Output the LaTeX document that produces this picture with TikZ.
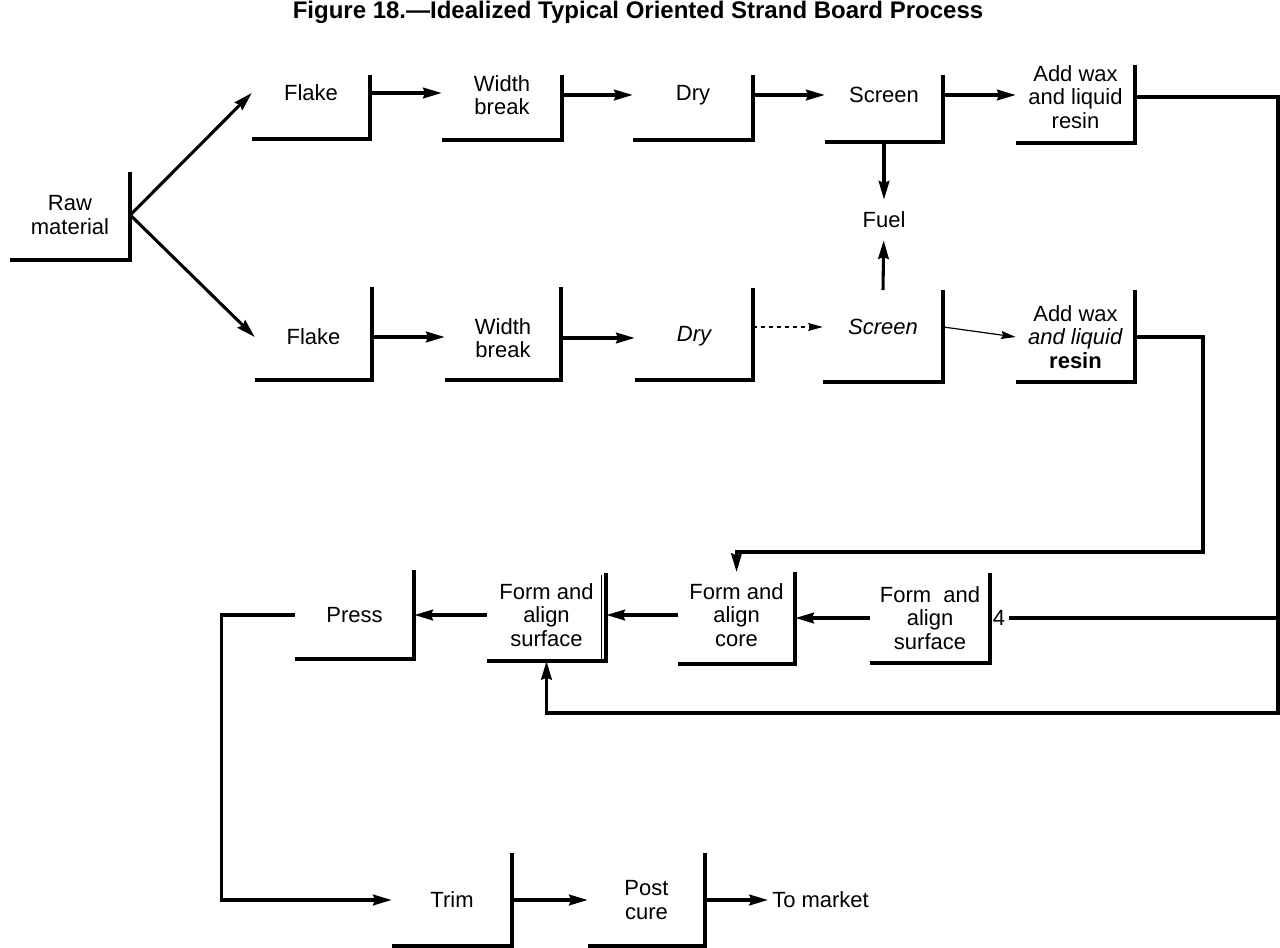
\documentclass[tikz,border=0pt]{standalone}
\usepackage{fontspec}
\setmainfont{Liberation Sans}
\usetikzlibrary{arrows.meta}

\tikzset{
  stage/.style={inner sep=0pt, minimum width={#1*0.75pt}, align=center,
    font=\fontsize{16.5}{17.6}\selectfont},
  note/.style={inner sep=3pt, font=\fontsize{16.5}{17.6}\selectfont},
  rim/.style={line width=2.8pt},
  wire/.style={line width=2.3pt},
  flow/.style={wire, -{Stealth[length=14pt,width=8pt,inset=1.5pt]}},
  faint/.style={line width=0.9pt, -{Stealth[length=11pt,width=6pt,inset=1.5pt]}},
}

% open box: right side and bottom only, rise/drop in px from the text
\newcommand\stageframe[3]{%
  \draw[rim] ([shift={(0,-#2)}]#1.east) |- ([shift={(0,#3)}]#1.west);
  \coordinate (#1 top) at ([shift={(0,-#2)}]#1.center);
  \coordinate (#1 bot) at ([shift={(0,#3)}]#1.center);
}

\begin{document}
\begin{tikzpicture}[x=0.75pt,y=-0.75pt]
\useasboundingbox (0,0) rectangle (1280,948);

\node[font=\bfseries\fontsize{18}{20}\selectfont] (title) at (638,12)
  {Figure 18.—Idealized Typical Oriented Strand Board Process};

\node[stage=120] (raw) at (70,215) {Raw\\material};

\node[stage=118] (flakeA) at (311,93) {Flake};
\node[stage=120] (wbreakA) at (502,95) {Width\\break};
\node[stage=120] (dryA) at (693,95) {Dry};
\node[stage=118] (screenA) at (884,95) {Screen};
\node[stage=119] (waxA) at (1075.5,97) {Add wax\\and liquid\\resin};

\node[stage=117] (flakeB) at (313.5,337) {Flake};
\node[stage=116] (wbreakB) at (503,338) {Width\\break};
\node[stage=118] (dryB) at (694,336) {\itshape Dry};
\node[stage=120] (screenB) at (883,327) {\itshape Screen};
\node[stage=119] (waxB) at (1075.5,337) {Add wax\\\textit{and liquid}\\\textbf{resin}};

\node[stage=120] (surfR) at (930,618) {Form\ \ and\\align\\surface};
\node[stage=117] (core) at (736.5,615) {Form and\\align\\core};
\node[stage=119] (surfM) at (546.5,615) {Form and\\align\\surface};
\node[stage=119] (press) at (354.5,615) {Press};

\node[stage=120] (trim) at (452,900) {Trim};
\node[stage=117] (post) at (646.5,900) {Post\\cure};

\node[note, inner sep=9pt] (fuel) at (884,220) {Fuel};
\node[note] (four) at (999,618) {4};
\node[note, anchor=west] (market) at (768,900) {To market};

\stageframe{raw}{43}{45}
\stageframe{flakeA}{18}{46}
\stageframe{wbreakA}{20}{45}
\stageframe{dryA}{20}{45}
\stageframe{screenA}{20}{47}
\stageframe{waxA}{32}{46}
\stageframe{flakeB}{50}{43}
\stageframe{wbreakB}{51}{42}
\stageframe{dryB}{48}{44}
\stageframe{screenB}{37}{55}
\stageframe{waxB}{47}{45}
\stageframe{surfR}{45}{45}
\stageframe{core}{43}{49}
\stageframe{surfM}{42}{46}
\stageframe{press}{45}{44}
\stageframe{trim}{47}{46}
\stageframe{post}{47}{46}
\draw[line width=0.8pt] ([shift={(-5,-40)}]surfM.east) -- ([shift={(-5,44)}]surfM.east);

\draw[flow] (raw.east) -- (flakeA.west);
\draw[flow] (raw.east) -- (flakeB.west);
\draw[flow] (flakeA.east) -- (flakeA.east -| wbreakA.west);
\draw[flow] (wbreakA.east) -- (wbreakA.east -| dryA.west);
\draw[flow] (dryA.east) -- (dryA.east -| screenA.west);
\draw[flow] (screenA.east) -- (screenA.east -| waxA.west);
\draw[flow] (screenA bot) -- (fuel);
\draw[flow] (screenB top) -- (fuel);

\draw[flow] (flakeB.east) -- (flakeB.east -| wbreakB.west);
\draw[flow] (wbreakB.east) -- (wbreakB.east -| dryB.west);
\draw[faint, dashed] (dryB.east |- screenB.west) -- (screenB.west);
\draw[faint] (screenB.east) -- (waxB.west);

\coordinate (busR) at (1278,713);
\coordinate (busB) at (1203,552);
\draw[flow] (waxA.east) -| (busR) -| (surfM bot);
\draw[wire] (busR |- four) -- (four);
\draw[flow] (waxB.east) -| (busB) -| (core top);

\draw[flow] (surfR.west) -- (surfR.west -| core.east);
\draw[flow] (core.west) -- (core.west -| surfM.east);
\draw[flow] (surfM.west) -- (surfM.west -| press.east);
\draw[flow] (press.west) -- ++(-73,0) |- (trim.west);
\draw[flow] (trim.east) -- (trim.east -| post.west);
\draw[flow] (post.east) -- (post.east -| market.west);
\end{tikzpicture}
\end{document}
